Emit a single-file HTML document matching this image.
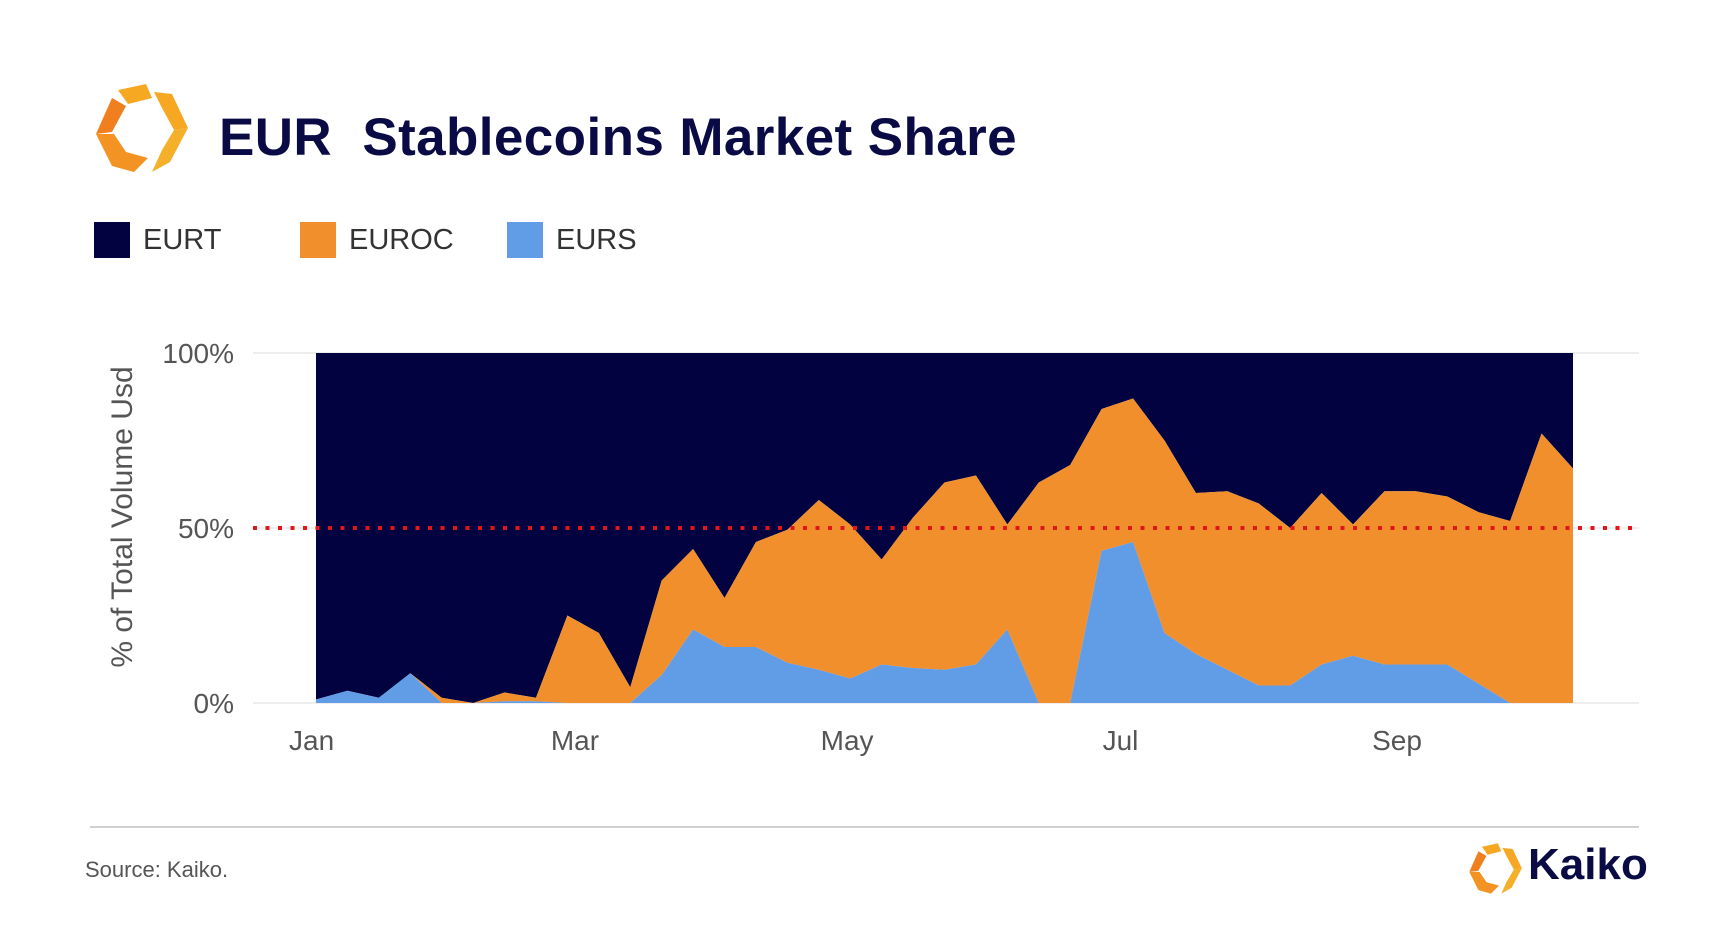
<!DOCTYPE html>
<html><head><meta charset="utf-8"><style>
html,body{margin:0;padding:0;background:#fff;}
body{width:1716px;height:926px;position:relative;overflow:hidden;font-family:"Liberation Sans",Arial,sans-serif;}
.abs{position:absolute;}
</style></head><body>
<svg class="abs" style="left:92px;top:84px" width="98" height="90" viewBox="0 0 98 90">
 <polygon points="26,6 54,0 60,14 36,20" fill="#f7a823"/>
 <polygon points="62,8 80,10 96,44 82,46 70,24" fill="#f7a823"/>
 <polygon points="82,46 96,44 78,78 60,88 70,66" fill="#f5b02a"/>
 <polygon points="22,50 34,68 56,74 42,88 20,82 4,50" fill="#f39323"/>
 <polygon points="4,50 20,14 34,22 20,48" fill="#ef7f1f"/>
</svg>
<div class="abs" style="left:219px;top:107px;font-size:53px;font-weight:bold;color:#0a0a45;white-space:pre;letter-spacing:0.4px">EUR  Stablecoins Market Share</div>

<div class="abs" style="left:94px;top:222px;height:36px;">
 <div class="abs" style="left:0;top:0;width:36px;height:36px;background:#020240"></div>
 <div class="abs" style="left:49px;top:2px;font-size:29px;color:#333">EURT</div>
</div>
<div class="abs" style="left:300px;top:222px;height:36px;">
 <div class="abs" style="left:0;top:0;width:36px;height:36px;background:#f28f2d"></div>
 <div class="abs" style="left:49px;top:2px;font-size:29px;color:#333">EUROC</div>
</div>
<div class="abs" style="left:507px;top:222px;height:36px;">
 <div class="abs" style="left:0;top:0;width:36px;height:36px;background:#619ce6"></div>
 <div class="abs" style="left:49px;top:2px;font-size:29px;color:#333">EURS</div>
</div>

<svg id="chart" class="abs" style="left:0;top:0" width="1716" height="926"></svg>

<div class="abs" style="left:90px;top:826px;width:1549px;height:2px;background:#d0d0d0"></div>
<div class="abs" style="left:85px;top:857px;font-size:22px;color:#555">Source: Kaiko.</div>
<svg class="abs" style="left:1467px;top:842px" width="56" height="54" viewBox="0 0 98 90">
 <polygon points="26,6 54,0 60,14 36,20" fill="#f7a823"/>
 <polygon points="62,8 80,10 96,44 82,46 70,24" fill="#f7a823"/>
 <polygon points="82,46 96,44 78,78 60,88 70,66" fill="#f5b02a"/>
 <polygon points="22,50 34,68 56,74 42,88 20,82 4,50" fill="#f39323"/>
 <polygon points="4,50 20,14 34,22 20,48" fill="#ef7f1f"/>
</svg>
<div class="abs" style="left:1528px;top:840px;font-size:44px;font-weight:bold;color:#0a0a45">Kaiko</div>

<script>
const eurs  = [1,3.5,1.5,8.5,0,0,0.5,0.5,0,0,0,8,21,16,16,11.5,9.5,7,11,10,9.5,11,21,0,0,43.5,46,20,14,9.5,5,5,11,13.5,11,11,11,5.5,0,0,0];
const euroc = [0,0,0,0,1.5,0,2.5,1,25,20,4.5,27,23,14,30,38,48.5,44,30,43,53.5,54,30,63,68,40.5,41,55,46,51,52,45,49,37.5,49.5,49.5,48,49,52,77,67];
const yTicks = [0,50,100];
const yTickLabels = ["0%","50%","100%"];
const monthLabels = ["Jan","Mar","May","Jul","Sep"];
const monthIndex = [-0.14,8.24,16.9,25.6,34.4];
const refLevel = [50];

const NS="http://www.w3.org/2000/svg";
const svg=document.getElementById('chart');
const X0=316,X1=1573,Y0=703,Y1=353;
const n=eurs.length;
const xs=i=>X0+(X1-X0)*i/(n-1);
const ys=v=>Y0-(Y0-Y1)*v/100;
function mk(tag,attrs){const e=document.createElementNS(NS,tag);for(const k in attrs)e.setAttribute(k,attrs[k]);svg.appendChild(e);return e;}

yTicks.forEach((t,k)=>{
 const g=mk('line',{x1:253,x2:1639,y1:ys(t),y2:ys(t),stroke:'#eeeeee','stroke-width':2});
 
 
 const tx=mk('text',{x:234,y:ys(t)+10,'text-anchor':'end','font-size':28,fill:'#555','font-family':'Liberation Sans, sans-serif'});
 tx.textContent=yTickLabels[k];
 
 
});
monthLabels.forEach((m,k)=>{
 const x=X0+(X1-X0)*monthIndex[k]/(n-1);
 const tx=mk('text',{x:x,y:750,'text-anchor':'middle','font-size':28,fill:'#555','font-family':'Liberation Sans, sans-serif'});
 tx.textContent=m;
 
 
});
const top1=eurs.map((v,i)=>v+euroc[i]);
function area(lower,upper,fill,name){
 let d='M'+xs(0)+','+ys(upper[0]);
 for(let i=1;i<n;i++)d+='L'+xs(i)+','+ys(upper[i]);
 for(let i=n-1;i>=0;i--)d+='L'+xs(i)+','+ys(lower[i]);
 const p=mk('path',{d:d+'Z',fill:fill});
 
 
}
const zeros=eurs.map(()=>0), hund=eurs.map(()=>100);
area(top1,hund,'#020240','area-eurt');
area(eurs,top1,'#f28f2d','area-euroc');
area(zeros,eurs,'#619ce6','area-eurs');
const rl=mk('line',{x1:253,x2:1639,y1:ys(refLevel[0]),y2:ys(refLevel[0]),stroke:'#e0161b','stroke-width':4,'stroke-dasharray':'4,8.5'});


const yt=mk('text',{x:0,y:0,'text-anchor':'middle','font-size':30,fill:'#555','font-family':'Liberation Sans, sans-serif',transform:'translate(132,517) rotate(-90)'});
yt.textContent='% of Total Volume Usd';


</script>
</body></html>
